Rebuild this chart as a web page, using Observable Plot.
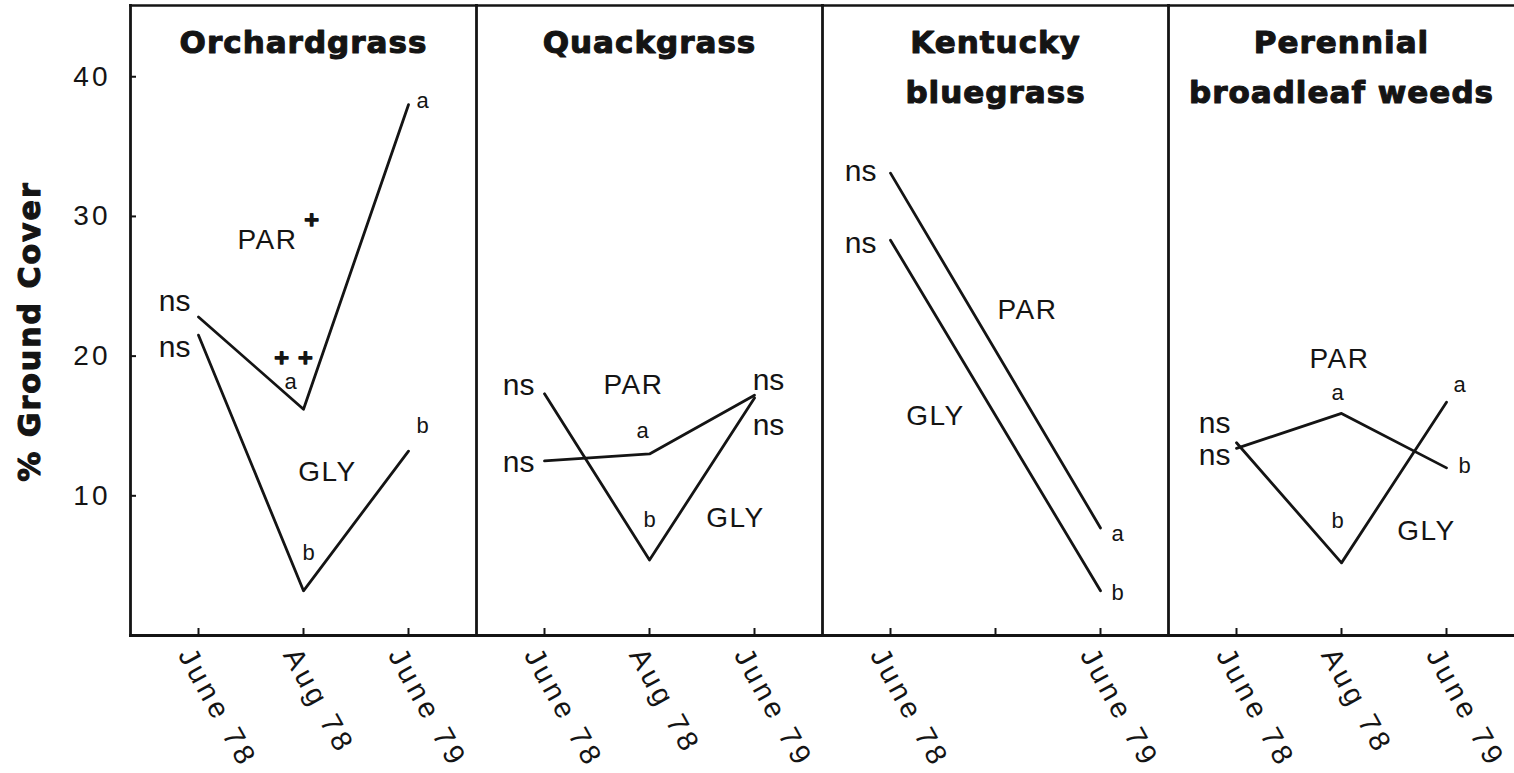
<!DOCTYPE html>
<html>
<head>
<meta charset="utf-8">
<script src="https://cdn.jsdelivr.net/npm/d3@7"></script>
<script src="https://cdn.jsdelivr.net/npm/@observablehq/plot@0.6"></script>
<style>
  html, body { margin: 0; padding: 0; background: #fff; overflow: hidden; }
  g[aria-description="xticklabels"] text { letter-spacing: 4px; }
  g[aria-description="treatlabels"] text { letter-spacing: 1.5px; }
  g[aria-description="ytick"] text { letter-spacing: 3px; }
  g[aria-description="titles"] text { letter-spacing: 1px; }
  g[aria-description="ylabel"] text { letter-spacing: 2px; }
</style>
</head>
<body>
<div id="chart"></div>
<script>
// ---------------- data ----------------
const dates = ["June 78", "Aug 78", "June 79"];
const species = ["Orchardgrass", "Quackgrass", "Kentucky bluegrass", "Perennial broadleaf weeds"];
const titles = ["Orchardgrass", "Quackgrass", "Kentucky\nbluegrass", "Perennial\nbroadleaf weeds"];
const treatments = ["PAR", "GLY"];
const yTicks = [10, 20, 30, 40];
const yLabel = "% Ground Cover";

const orchardPAR = [22.8, 16.2, 38.0];
const orchardGLY = [21.5, 3.2, 13.2];
const quackPAR = [12.5, 13.0, 17.2];
const quackGLY = [17.3, 5.4, 17.0];
const bluegrassPAR = [33.1, null, 7.7];
const bluegrassGLY = [28.3, null, 3.2];
const weedsPAR = [13.4, 15.9, 12.0];
const weedsGLY = [13.8, 5.2, 16.7];

const orchardPARsig = ["ns", "a", "a"];
const orchardGLYsig = ["ns", "b", "b"];
const quackPARsig = ["ns", "a", "ns"];
const quackGLYsig = ["ns", "b", "ns"];
const bluegrassPARsig = ["ns", null, "a"];
const bluegrassGLYsig = ["ns", null, "b"];
const weedsPARsig = ["ns", "a", "b"];
const weedsGLYsig = ["ns", "b", "a"];

// ---------------- table ----------------
const series = [
  [0, "PAR", orchardPAR, orchardPARsig], [0, "GLY", orchardGLY, orchardGLYsig],
  [1, "PAR", quackPAR, quackPARsig], [1, "GLY", quackGLY, quackGLYsig],
  [2, "PAR", bluegrassPAR, bluegrassPARsig], [2, "GLY", bluegrassGLY, bluegrassGLYsig],
  [3, "PAR", weedsPAR, weedsPARsig], [3, "GLY", weedsGLY, weedsGLYsig]
];
const rows = series.flatMap(([s, t, vals, sig]) =>
  vals.map((v, i) => ({k: s, species: species[s], treatment: t, date: dates[i], i, value: v, sig: sig[i]}))
      .filter(r => r.value != null));

// tick labels only where a species has data at that date
const tickRows = species.flatMap((s, k) =>
  dates.filter(d => rows.some(r => r.k === k && r.date === d)).map(d => ({species: s, date: d})));

// ---------------- annotation placement (pixel offsets) ----------------
const place = {
  "0|PAR|0": ["end", -8, -16], "0|GLY|0": ["end", -8, 12],
  "0|PAR|1": ["middle", -13, -27], "0|GLY|1": ["middle", 5, -38],
  "0|PAR|2": ["start", 8, -4], "0|GLY|2": ["start", 8, -25],
  "1|GLY|0": ["end", -10, -8], "1|PAR|0": ["end", -10, 2],
  "1|PAR|1": ["middle", -7, -23], "1|GLY|1": ["middle", 0, -40],
  "1|PAR|2": ["middle", 14, -15], "1|GLY|2": ["middle", 14, 27],
  "2|PAR|0": ["end", -14, -2], "2|GLY|0": ["end", -14, 3],
  "2|PAR|2": ["start", 11, 6], "2|GLY|2": ["start", 11, 2],
  "3|GLY|0": ["end", -6, -19], "3|PAR|0": ["end", -6, 7],
  "3|PAR|1": ["middle", -4, -20], "3|GLY|1": ["middle", -4, -42],
  "3|PAR|2": ["start", 12, -2], "3|GLY|2": ["start", 7, -17]
};

const freeLabels = [
  {k: 0, text: "PAR", date: "Aug 78", value: 28.3, dx: -36, cls: "treatlabels", size: 28},
  {k: 0, text: "+", date: "Aug 78", value: 29.8, dx: 8, cls: "plus", size: 20},
  {k: 0, text: "+ +", date: "Aug 78", value: 19.9, dx: -10, cls: "plus", size: 20},
  {k: 0, text: "GLY", date: "Aug 78", value: 11.7, dx: 24, cls: "treatlabels", size: 28},
  {k: 1, text: "PAR", date: "Aug 78", value: 17.9, dx: -16, cls: "treatlabels", size: 28},
  {k: 1, text: "GLY", date: "Aug 78", value: 8.4, dx: 86, cls: "treatlabels", size: 28},
  {k: 2, text: "PAR", date: "June 79", value: 23.3, dx: -73, cls: "treatlabels", size: 28},
  {k: 2, text: "GLY", date: "June 78", value: 15.7, dx: 45, cls: "treatlabels", size: 28},
  {k: 3, text: "PAR", date: "Aug 78", value: 19.8, dx: -2, cls: "treatlabels", size: 28},
  {k: 3, text: "GLY", date: "June 79", value: 7.5, dx: -20, cls: "treatlabels", size: 28}
];

const ink = "#141414";
const sigMarks = rows.filter(r => r.sig).map(r => {
  const [anchor, dx, dy] = place[`${r.k}|${r.treatment}|${r.i}`];
  return Plot.text([r], {
    fx: "species", x: "date", y: "value", text: "sig",
    textAnchor: anchor, lineAnchor: "middle", dx, dy,
    fontSize: r.sig === "ns" ? 30 : 22, fill: ink
  });
});
const freeMarks = freeLabels.map(l => Plot.text([l], {
  fx: d => species[d.k], x: "date", y: "value", text: "text",
  dx: l.dx, lineAnchor: "middle", fontSize: l.size, fill: ink,
  fontWeight: l.cls === "plus" ? "bold" : "normal",
  fontFamily: l.cls === "plus" ? "DejaVu Sans" : undefined,
  stroke: l.cls === "plus" ? ink : undefined,
  strokeWidth: l.cls === "plus" ? 1.5 : undefined,
  ariaDescription: l.cls
}));

const chart = Plot.plot({
  width: 1514,
  height: 773,
  marginLeft: 130,
  marginRight: 0,
  marginTop: 5,
  marginBottom: 138,
  style: {fontFamily: "'Liberation Sans', Arial, sans-serif", color: ink, background: "#fff"},
  fx: {domain: species, padding: 0, axis: null, label: null},
  x: {type: "point", domain: dates, padding: 0.64, label: null},
  y: {domain: [0, 45.1], label: null},
  marks: [
    Plot.frame({anchor: "left", stroke: ink, strokeWidth: 2.8}),
    Plot.frame({anchor: "top", stroke: ink, strokeWidth: 2.5}),
    Plot.frame({anchor: "bottom", stroke: ink, strokeWidth: 3}),
    Plot.axisY(yTicks, {tickSize: -6, tickPadding: 26, fontSize: 28, strokeWidth: 2, label: null, ariaDescription: "ytick"}),
    Plot.axisX({tickSize: -7, strokeWidth: 2, tickFormat: () => "", label: null}),
    Plot.text(tickRows, {
      fx: "species", x: "date", text: "date", frameAnchor: "bottom",
      rotate: 61, textAnchor: "start", lineAnchor: "middle", dx: -13, dy: 15,
      fontSize: 29, fill: ink, ariaDescription: "xticklabels"
    }),
    Plot.text(titles, {
      fx: (d, i) => species[i], frameAnchor: "top", lineAnchor: "top", dy: 12,
      fontSize: 31, fontWeight: "bold", fontFamily: "'DejaVu Sans', sans-serif",
      lineHeight: 1.62, fill: ink, stroke: ink, strokeWidth: 1.1, ariaDescription: "titles"
    }),
    Plot.text([yLabel], {
      fx: () => species[0], frameAnchor: "left", textAnchor: "middle", rotate: -90, dx: -100, dy: 11,
      fontSize: 30, fontWeight: "bold", fontFamily: "'DejaVu Sans', sans-serif",
      fill: ink, stroke: ink, strokeWidth: 1.1, ariaDescription: "ylabel"
    }),
    Plot.line(rows, {fx: "species", x: "date", y: "value", z: d => d.species + d.treatment, stroke: ink, strokeWidth: 2.8}),
    ...sigMarks,
    ...freeMarks
  ]
});
document.getElementById("chart").appendChild(chart);
</script>
</body>
</html>
